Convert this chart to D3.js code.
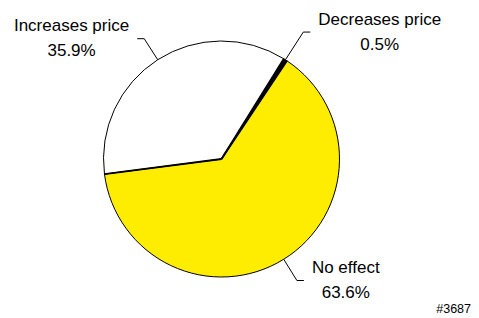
<!DOCTYPE html>
<html>
<head>
<meta charset="utf-8">
<script src="https://cdn.jsdelivr.net/npm/d3@7"></script>
<style>
  body { margin: 0; background: #fff; }
  text { font-family: "Liberation Sans", Arial, sans-serif; fill: #000; }
</style>
</head>
<body>
<svg id="chart" width="479" height="318"></svg>
<script>
// chart data
const categories = ['Decreases price', 'No effect', 'Increases price'];
const shares = [0.5, 63.6, 35.9];
const sliceColors = ['#000000', '#ffed00', '#ffffff'];
const footnote = '#3687';

const width = 479, height = 318;
const cx = 221.5, cy = 159, radius = 118;
const startDeg = 31.9;

let svg = d3.select('#chart');
let chart = svg.append('g').attr('transform', `translate(${cx}, ${cy})`);

const pie = d3.pie()
    .sort(null)
    .value(d => d.value)
    .startAngle(startDeg * Math.PI / 180)
    .endAngle(startDeg * Math.PI / 180 + 2 * Math.PI);

const data = categories.map((c, i) => ({name: c, value: shares[i], color: sliceColors[i]}));
const arcs = pie(data);

const arc = d3.arc().innerRadius(0).outerRadius(radius);

chart.selectAll('.slice')
    .data(arcs)
    .enter()
    .append('path')
    .attr('class', 'slice')
    .attr('d', arc)
    .attr('fill', d => d.data.color)
    .attr('stroke', '#000')
    .attr('stroke-width', 1)
    .attr('stroke-linejoin', 'round');

// slice borders from the centre are a bit heavier
chart.selectAll('.spoke')
    .data(arcs)
    .enter()
    .append('line')
    .attr('class', 'spoke')
    .attr('x1', 0).attr('y1', 0)
    .attr('x2', d => radius * Math.sin(d.startAngle))
    .attr('y2', d => -radius * Math.cos(d.startAngle))
    .attr('stroke', '#000')
    .attr('stroke-width', 1.8);

// labels with leader lines
const elbowRadius = [151, 143, 143];
const hook = 7, gap = 8, lineGap = 25, fontSize = 17;

arcs.forEach((d, i) => {
    const mid = (d.startAngle + d.endAngle) / 2;
    const sx = radius * Math.sin(mid), sy = -radius * Math.cos(mid);
    const ex = elbowRadius[i] * Math.sin(mid), ey = -elbowRadius[i] * Math.cos(mid);
    const right = ex > 0;
    const hx = ex + (right ? hook : -hook);

    chart.append('path')
        .attr('d', `M${sx},${sy}L${ex},${ey}L${hx},${ey}`)
        .attr('fill', 'none')
        .attr('stroke', '#000')
        .attr('stroke-width', 1);

    let label = chart.append('g');
    let t1 = label.append('text')
        .attr('text-anchor', 'middle')
        .attr('font-size', fontSize)
        .attr('y', -lineGap / 2 + 4)
        .text(d.data.name);
    label.append('text')
        .attr('text-anchor', 'middle')
        .attr('font-size', fontSize)
        .attr('y', lineGap / 2 + 4)
        .text(d.data.value.toFixed(1) + '%');

    const w = t1.node().getComputedTextLength();
    const lx = right ? hx + gap + w / 2 : hx - gap - w / 2;
    label.attr('transform', `translate(${lx}, ${ey + 1})`);
});

svg.append('text')
    .attr('x', 471)
    .attr('y', 313)
    .attr('text-anchor', 'end')
    .attr('font-size', 12.5)
    .text(footnote);
</script>
</body>
</html>
